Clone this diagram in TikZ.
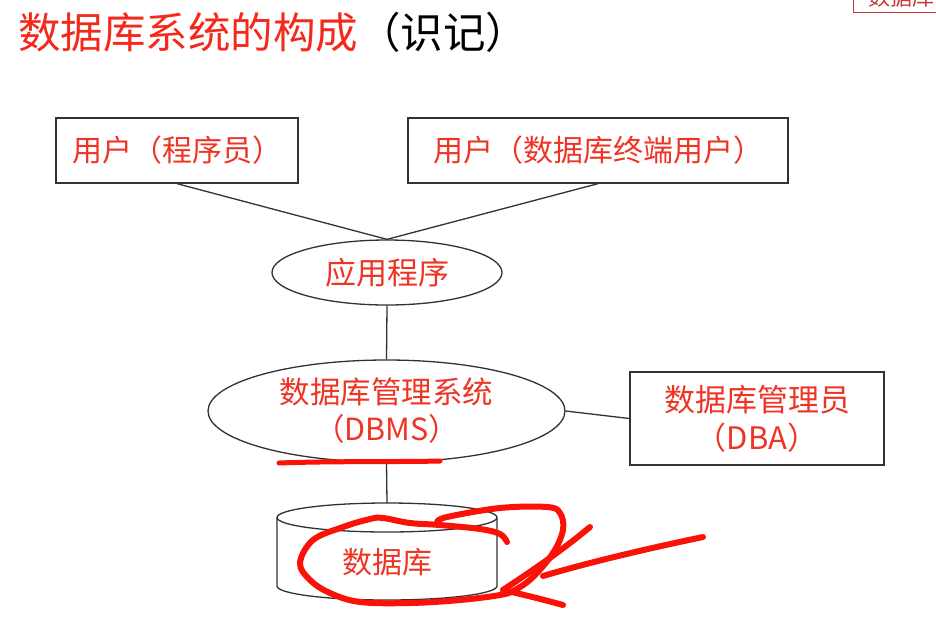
\documentclass[tikz,border=0pt]{standalone}
\usepackage{fontspec}
\setmainfont{Noto Sans CJK SC}
\usetikzlibrary{shapes.geometric}
\definecolor{txtred}{RGB}{238,52,36}
\definecolor{titlered}{RGB}{245,40,28}
\definecolor{inkred}{RGB}{250,18,8}
\definecolor{linegray}{RGB}{50,50,50}
\definecolor{boxred}{RGB}{195,60,55}
\begin{document}
\begin{tikzpicture}[x=1pt,y=-1pt,
  conn/.style={draw=linegray,line width=1.3pt},
  boxnode/.style={draw=linegray,line width=1.3pt,rectangle,inner sep=0pt,font=\fontsize{30}{38}\selectfont,text=txtred,align=center},
  ellnode/.style={draw=linegray,line width=1.3pt,ellipse,inner sep=0pt,font=\fontsize{30.5}{37}\selectfont,text=txtred,align=center},
  scribble/.style={draw=inkred,line width=6pt,line cap=round,line join=round}]
\path[use as bounding box] (0,0) rectangle (936,622);
\fill[white] (0,0) rectangle (936,622);

% title
\node[anchor=west, inner sep=0pt, font=\fontsize{42.5}{42.5}\selectfont] (title) at (18,32) {\textcolor{titlered}{数据库系统的构成}（识记）};

% fragment top right
\begin{scope}
\clip (0,0) rectangle (936,622);
\draw[draw=boxred, line width=1pt] (853,-30) rectangle (960,12);
\node[anchor=base west, inner sep=0pt, text=boxred, font=\fontsize{22}{22}\selectfont] (frag) at (868,5) {数据库};
\end{scope}

% nodes
\node[boxnode, minimum width=242pt, minimum height=65pt] (u1) at (177,150.5) {用户（程序员）};
\node[boxnode, minimum width=380pt, minimum height=65pt] (u2) at (598,150.5) {用户（数据库终端用户）};
\node[ellnode, font=\fontsize{31}{31}\selectfont, minimum width=230pt, minimum height=65pt] (app) at (387,272.5) {应用程序};
\node[ellnode, minimum width=357pt, minimum height=102pt] (dbms) at (386.5,411) {数据库管理系统\\（DBMS）};
\node[boxnode, font=\fontsize{31}{38}\selectfont, minimum width=254pt, minimum height=93pt] (dba) at (757,418.5) {数据库管理员\\（DBA）};

% cylinder
\coordinate (dbtop) at (387,503);
\draw[conn] (387,517.5) ellipse [x radius=110pt, y radius=14.5pt];
\draw[conn] (277,517.5) -- (277,586) arc[start angle=180, end angle=360, x radius=110pt, y radius=14pt] -- (497,517.5);
\node[font=\fontsize{30}{30}\selectfont, text=txtred] (db) at (387,562) {数据库};

% connectors
\draw[conn] (u1.south) -- (app.north);
\draw[conn] (u2.south) -- (app.north);
\draw[conn] (app.south) -- (dbms.north);
\draw[conn] (dbms.east) -- (dba.west);
\draw[conn] (dbms.south) -- (dbtop);

% hand-drawn marks
\draw[scribble, line width=5pt] (279,463) .. controls (330,461) and (400,462) .. (440,461);
\draw[scribble] plot[smooth, tension=0.6] coordinates {(507,542) (500,534) (480,529) (440,525) (410,523) (383,518) (370,519) (343,527) (313,540) (300,563) (310,580) (330,593) (360,602) (410,603) (460,600) (500,595) (515,590) (533,577) (553,553) (563,530) (560,513) (547,507) (500,508) (447,517) (437,522)};
\draw[scribble] (703,537) .. controls (650,548) and (590,562) .. (543,576);
\draw[scribble] (590,527) .. controls (560,552) and (530,572) .. (503,590);
\draw[scribble] (503,590) .. controls (525,595) and (545,600) .. (563,605);
\end{tikzpicture}
\end{document}
